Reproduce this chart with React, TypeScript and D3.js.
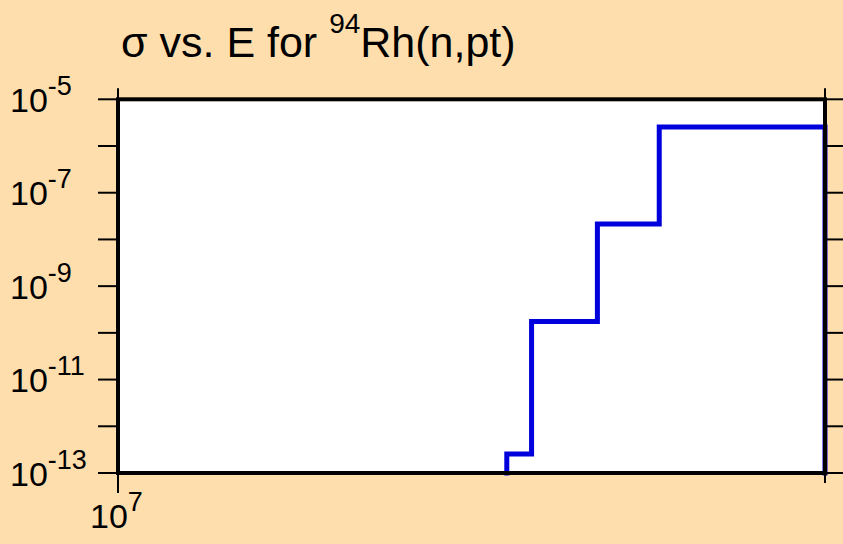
import React from "react";
import * as d3 from "d3";

// bin edges (eV) and cross sections (b)
const binEdges = [1.464e7, 1.5e7, 1.6e7, 1.7e7, 2.0e7];
const sigma = [2.54e-13, 1.75e-10, 2.14e-8, 2.55e-6];
const yTickExps = [-5, -6, -7, -8, -9, -10, -11, -12, -13];
const yLabelExps = [-5, -7, -9, -11, -13];
const xMajor = [1e7];
const xMinor = [2e7];

const W = 843, H = 544;
const left = 118, right = 825, top = 99.3, bottom = 473;
const font = "'Liberation Sans', Arial, sans-serif";

export default function App() {
  const x = d3.scaleLog().domain([1e7, 2e7]).range([left, right]);
  const y = d3.scaleLog().domain([1e-13, 1e-5]).range([bottom, top]);
  const yMin = 1e-13;

  var pts: [number, number][] = [[binEdges[0], yMin]];
  sigma.forEach(function (v, i) {
    pts.push([binEdges[i], v]);
    pts.push([binEdges[i + 1], v]);
  });
  pts.push([binEdges[binEdges.length - 1], yMin]);

  const line = d3
    .line<[number, number]>()
    .x(function (d) { return x(d[0]); })
    .y(function (d) { return y(d[1]); });

  return (
    <svg width={W} height={H} style={{ position: "absolute", left: 0, top: 0, display: "block" }} fontFamily={font}>
      <rect x={0} y={0} width={W} height={H} fill="#FFDEAD" />
      <rect x={left} y={top} width={right - left} height={bottom - top} fill="#ffffff" />

      <text x={121} y={57} fontSize={43} fill="#000">
        σ vs. E for <tspan fontSize={28} dy={-24}>94</tspan><tspan dy={24}>Rh(n,pt)</tspan>
      </text>

      <path d={line(pts) || ""} fill="none" stroke="#0000dd" strokeWidth={5} strokeLinejoin="miter" strokeLinecap="square" />

      {/* frame */}
      <rect x={left} y={top} width={right - left} height={bottom - top} fill="none" stroke="#000" strokeWidth={4} />

      {/* y ticks */}
      {yTickExps.map(function (e) {
        const yy = y(Math.pow(10, e));
        return (
          <g key={"yt" + e}>
            <line x1={left - 20} x2={left} y1={yy} y2={yy} stroke="#000" strokeWidth={2} />
            <line x1={right} x2={W} y1={yy} y2={yy} stroke="#000" strokeWidth={2} />
          </g>
        );
      })}
      {yLabelExps.map(function (e) {
        const yy = y(Math.pow(10, e));
        return (
          <text key={"yl" + e} x={10} y={yy + 12.5} fontSize={34} fill="#000">
            10<tspan fontSize={27} dy={-17}>{e}</tspan>
          </text>
        );
      })}

      {/* x ticks */}
      {xMajor.map(function (v) {
        const xx = x(v);
        return (
          <g key={"xm" + v}>
            <line x1={xx} x2={xx} y1={bottom} y2={bottom + 20} stroke="#000" strokeWidth={2} />
            <line x1={xx} x2={xx} y1={top} y2={top - 11} stroke="#000" strokeWidth={2} />
            <text x={xx - 28} y={528} fontSize={34} fill="#000">
              10<tspan fontSize={27} dy={-17}>{Math.round(Math.log10(v))}</tspan>
            </text>
          </g>
        );
      })}
      {xMinor.map(function (v) {
        const xx = x(v);
        return (
          <g key={"xn" + v}>
            <line x1={xx} x2={xx} y1={bottom} y2={bottom + 10} stroke="#000" strokeWidth={2} />
            <line x1={xx} x2={xx} y1={top} y2={top - 11} stroke="#000" strokeWidth={2} />
          </g>
        );
      })}
    </svg>
  );
}
